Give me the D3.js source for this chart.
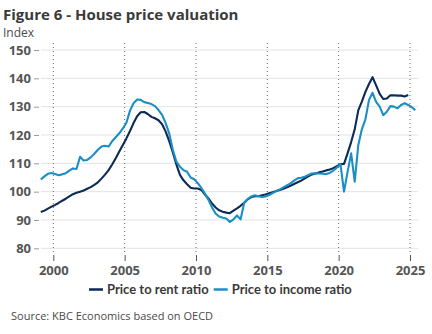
<!DOCTYPE html>
<html>
<head>
<meta charset="utf-8">
<script src="https://cdn.jsdelivr.net/npm/d3@7"></script>
<style>
  body { margin: 0; background: #fff; }
  svg { display: block; font-family: "Open Sans", sans-serif; }
</style>
</head>
<body>
<div id="chart"></div>
<script>
// quarterly data, 1999Q1 onwards
var startYear = 1999;
var rentRatio = [
  92.8, 93.3, 94.0, 94.7,   95.3, 96.0, 96.8, 97.5,   98.3, 99.1, 99.6, 100.0,
  100.4, 101.0, 101.6, 102.4,   103.3, 104.6, 106.0, 107.6,   109.6, 111.8, 114.2, 116.5,
  118.8, 121.4, 124.2, 126.6,   128.0, 128.1, 127.4, 126.4,   125.9, 125.2, 123.8, 121.2,
  117.8, 113.9, 109.6, 105.9,   104.0, 102.6, 101.4, 101.1,   101.1, 100.6, 99.0, 97.6,
  95.8, 94.4, 93.4, 92.9,   92.6, 92.4, 93.3, 94.1,   95.0, 96.1, 97.3, 98.1,
  98.4, 98.4, 98.7, 99.0,   99.4, 99.8, 100.2, 100.6,   101.0, 101.5, 102.1, 102.7,
  103.3, 103.9, 104.7, 105.4,   106.1, 106.4, 106.8, 107.1,   107.5, 107.8, 108.3, 109.0,
  109.7, 109.8, 113.5, 117.5,   122.0, 128.7, 131.8, 135.2,   138.0, 140.4, 137.5, 134.5,
  132.7, 132.9, 134.0, 134.0,   133.9, 133.9, 133.6, 134.1
];
var incomeRatio = [
  104.3, 105.4, 106.3, 106.6,   106.2, 105.8, 106.1, 106.5,   107.4, 108.2, 108.0, 112.3,
  111.0, 111.2, 112.1, 113.4,   114.8, 115.9, 116.2, 115.9,   117.8, 119.2, 120.6, 122.3,
  124.3, 128.6, 131.2, 132.5,   132.4, 131.6, 131.3, 130.9,   130.2, 128.8, 127.1, 124.2,
  120.5, 114.8, 110.6, 108.8,   107.6, 107.0, 105.0, 104.4,   103.0, 101.3, 99.3, 97.1,
  94.4, 92.3, 91.2, 90.8,   90.5, 89.3, 90.2, 91.6,   90.2, 96.0, 97.4, 98.3,
  98.7, 98.4, 98.1, 98.3,   98.8, 99.5, 100.2, 100.8,   101.5, 102.2, 102.9, 103.9,
  104.7, 104.9, 105.3, 105.9,   106.4, 106.5, 106.4, 106.3,   106.2, 106.6, 107.4, 108.5,
  109.7, 100.0, 107.0, 113.5,   103.5, 116.4, 122.0, 125.5,   132.3, 134.9, 131.7, 130.0,
  127.0, 128.2, 130.2, 130.0,   129.4, 130.6, 131.2, 130.6,   129.8, 128.8
];
var seriesNames = ["Price to rent ratio", "Price to income ratio"];
var seriesColors = ["#0c2a56", "#1b8fc3"];
var yTicks = [80, 90, 100, 110, 120, 130, 140, 150];
var xTicks = [2000, 2005, 2010, 2015, 2020, 2025];

var width = 432, height = 334;
var svg = d3.select("#chart").append("svg")
  .attr("width", width)
  .attr("height", height);

var x = d3.scaleLinear().domain([2000, 2025]).range([53.3, 410]);
var y = d3.scaleLinear().domain([80, 150]).range([248.3, 50]);

function toPoints(values) {
  return values.map(function(v, i) { return { t: startYear + (i + 0.5) / 4, v: v }; });
}

// title
svg.append("text")
  .attr("x", 3).attr("y", 20)
  .attr("font-size", 15).attr("font-weight", 700)
  .attr("fill", "#3a3a3a")
  .text("Figure 6 - House price valuation");
svg.append("text")
  .attr("x", 3).attr("y", 37)
  .attr("font-size", 12)
  .attr("fill", "#4a4a4a")
  .text("Index");

// horizontal grid
svg.append("g")
  .selectAll("line")
  .data(yTicks)
  .enter().append("line")
    .attr("x1", 41).attr("x2", 418)
    .attr("y1", function(d) { return y(d); })
    .attr("y2", function(d) { return y(d); })
    .attr("stroke", "#e3e3e3")
    .attr("stroke-width", 1);

// y axis: ticks + labels, no domain line
var yAxis = svg.append("g")
  .attr("transform", "translate(39,0)")
  .call(d3.axisLeft(y).tickValues(yTicks).tickSize(5).tickPadding(3));
yAxis.select(".domain").remove();
yAxis.selectAll(".tick line").attr("stroke", "#9a9a9a");
yAxis.selectAll(".tick text")
  .attr("font-size", 13).attr("font-weight", 700)
  .attr("font-family", "Open Sans, sans-serif")
  .attr("fill", "#555");

// vertical dotted lines
svg.append("g")
  .selectAll("line")
  .data(xTicks)
  .enter().append("line")
    .attr("x1", function(d) { return x(d); })
    .attr("x2", function(d) { return x(d); })
    .attr("y1", 43).attr("y2", 254)
    .attr("stroke", "#666")
    .attr("stroke-width", 1)
    .attr("stroke-dasharray", "1,3");

// x axis ticks + labels
var xAxis = svg.append("g")
  .attr("transform", "translate(0,255)")
  .call(d3.axisBottom(x).tickValues(xTicks).tickFormat(d3.format("d")).tickSize(6).tickPadding(5));
xAxis.select(".domain").remove();
xAxis.selectAll(".tick line").attr("stroke", "#555");
xAxis.selectAll(".tick text")
  .attr("font-size", 13).attr("font-weight", 700)
  .attr("font-family", "Open Sans, sans-serif")
  .attr("fill", "#555");

// lines
var line = d3.line()
  .x(function(d) { return x(d.t); })
  .y(function(d) { return y(d.v); });

[rentRatio, incomeRatio].forEach(function(vals, i) {
  svg.append("path")
    .datum(toPoints(vals))
    .attr("fill", "none")
    .attr("stroke", seriesColors[i])
    .attr("stroke-width", 2.1)
    .attr("stroke-linejoin", "round")
    .attr("d", line);
});

// legend, items laid out one after the other
var legend = svg.append("g").attr("transform", "translate(0,294)");
var cursor = 89;
seriesNames.forEach(function(name, i) {
  legend.append("line")
    .attr("x1", cursor).attr("x2", cursor + 14)
    .attr("y1", -4.5).attr("y2", -4.5)
    .attr("stroke", seriesColors[i])
    .attr("stroke-width", 2.5);
  var t = legend.append("text")
    .attr("x", cursor + 18).attr("y", 0)
    .attr("font-family", "Lato, sans-serif")
    .attr("font-size", 13).attr("font-weight", 700)
    .attr("fill", "#3a3a3a")
    .text(name);
  cursor += 18 + t.node().getComputedTextLength() + 5;
});

// source
svg.append("text")
  .attr("x", 11).attr("y", 320)
  .attr("font-size", 11)
  .attr("fill", "#4a4a4a")
  .text("Source: KBC Economics based on OECD");
</script>
</body>
</html>
